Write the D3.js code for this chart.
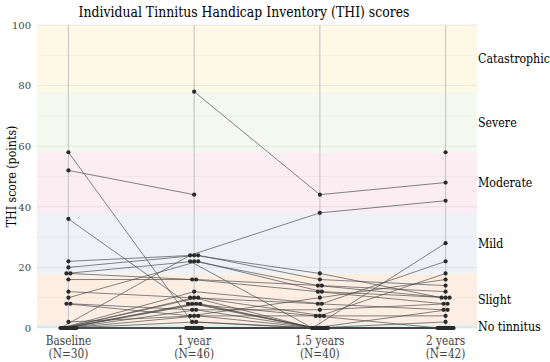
<!DOCTYPE html>
<html>
<head>
<meta charset="utf-8">
<script src="https://cdn.jsdelivr.net/npm/d3@7"></script>
<style>
body { margin:0; background:#fff; }
</style>
</head>
<body>
<div id="chart"></div>
<script>
var width = 550, height = 362;
var serif = "'DejaVu Serif', 'Liberation Serif', 'Times New Roman', serif";

// timepoints and their sample sizes
var timepoints = ["Baseline", "1 year", "1.5 years", "2 years"];
var nLabels = ["(N=30)", "(N=46)", "(N=40)", "(N=42)"];

// one entry per subject, null = not measured
var baseline = [52, null, 0, 58, 36, null, null, 22, 20, 18, 18, 16, 12, 10, 8, 8, 2,
  0, 0, 0, 0, 0, 0, 0, 0, 0, 0, 0, 0, 0, 0, 0, 0,
  null, null, null, null, null, null, null, null, null, null, null, null, null, null];
var year1 = [44, 78, 24, 2, 8, null, 22, 24, 24, 22, 16, 16, 10, 22, 4, 6, 4,
  12, 10, 10, 8, 8, 8, 6, 4, 2, 0, 0, 0, 0, 0, 0, 0,
  0, 0, 0, 0, 0, 0, 0, 0, 0, 0, 0, 0, 0, 0];
var year15 = [null, 44, 38, 0, 4, null, 0, 18, 16, 14, 12, 14, 8, 12, 10, 6, 4,
  8, 0, 4, 0, 0, 0, 0, 0, 0, 0, 0, 0, null, 0, null, 0,
  0, 0, 0, 0, 0, 0, 0, 0, 0, 0, 0, null, null, null];
var year2 = [null, 48, 42, 0, 0, 58, 28, 10, 14, 10, 8, 12, 6, 10, 16, 8, 18,
  22, 6, 4, 2, 0, 0, 0, 0, 0, 0, 0, 0, 0, null, null, 0,
  0, 0, 0, 0, 0, 0, 0, 0, 0, 0, 0, 0, null, null];

// severity grades
var grades = ["No tinnitus", "Slight", "Mild", "Moderate", "Severe", "Catastrophic"];
var gradeLow = [0, 1, 18, 38, 58, 78];
var gradeHigh = [1, 18, 38, 58, 78, 100];
var gradeColors = ["#ddf0ef", "#fdeee4", "#eef2f7", "#fbedf2", "#f5f8ee", "#fdf9e6"];

var margin = {top: 25, right: 73, bottom: 34, left: 37};

var svg = d3.select("#chart").append("svg")
  .attr("width", width)
  .attr("height", height)
  .style("font-family", serif);

var x = d3.scalePoint().domain(timepoints)
  .range([margin.left, width - margin.right]).padding(0.25);
var y = d3.scaleLinear().domain([0, 100])
  .range([height - margin.bottom, margin.top]);

// bands
svg.selectAll(".band").data(grades).enter().append("rect")
  .attr("x", margin.left)
  .attr("width", width - margin.right - margin.left)
  .attr("y", function(d, i){ return y(gradeHigh[i]) })
  .attr("height", function(d, i){ return y(gradeLow[i]) - y(gradeHigh[i]) })
  .attr("fill", function(d, i){ return gradeColors[i] });

// horizontal grid
svg.selectAll(".hgrid").data(d3.range(0, 101, 10)).enter().append("line")
  .attr("x1", margin.left).attr("x2", width - margin.right)
  .attr("y1", function(d){ return y(d) }).attr("y2", function(d){ return y(d) })
  .attr("stroke", "#000")
  .attr("stroke-opacity", function(d){ return d % 20 == 0 ? 0.07 : 0.035 });

// vertical grid
svg.selectAll(".vgrid").data(timepoints).enter().append("line")
  .attr("x1", function(d){ return x(d) }).attr("x2", function(d){ return x(d) })
  .attr("y1", y(100)).attr("y2", y(0))
  .attr("stroke", "#c9c9c9").attr("stroke-width", 1.2);

// y axis
var yAxis = svg.append("g")
  .attr("transform", "translate(" + margin.left + ",0)")
  .call(d3.axisLeft(y).tickValues([0, 20, 40, 60, 80, 100]).tickSize(0).tickPadding(6))
  .attr("font-family", serif);
yAxis.select(".domain").remove();
yAxis.selectAll("text").attr("font-size", 10).attr("fill", "#444");

svg.append("text")
  .attr("transform", "translate(16," + y(50) + ") rotate(-90) scale(0.85,1)")
  .attr("text-anchor", "middle")
  .attr("font-size", 13)
  .text("THI score (points)");

// x labels
var xl = svg.selectAll(".xlab").data(timepoints).enter().append("text")
  .attr("transform", function(d){ return "translate(" + x(d) + ",345) scale(0.88,1)" })
  .attr("text-anchor", "middle")
  .attr("font-size", 12)
  .attr("fill", "#444");
xl.append("tspan").text(function(d){ return d });
xl.append("tspan").attr("x", 0).attr("dy", 13)
  .text(function(d, i){ return nLabels[i] });

// title
svg.append("text")
  .attr("transform", "translate(244,17) scale(0.86,1)")
  .attr("text-anchor", "middle")
  .attr("font-size", 14.5)
  .text("Individual Tinnitus Handicap Inventory (THI) scores");

// grade labels
svg.selectAll(".glab").data(grades).enter().append("text")
  .attr("transform", function(d, i){
    return "translate(" + (width - margin.right + 1) + "," + y((gradeLow[i] + gradeHigh[i]) / 2) + ") scale(0.85,1)";
  })
  .attr("dy", "0.35em")
  .attr("font-size", 13)
  .text(function(d){ return d });

// points with horizontal dodge for equal values
var series = [baseline, year1, year15, year2];
var pos = series.map(function(vals, t){
  var groups = {};
  vals.forEach(function(v, i){ if (v !== null) (groups[v] = groups[v] || []).push(i) });
  var px = vals.map(function(){ return null });
  Object.keys(groups).forEach(function(k){
    var ids = groups[k], n = ids.length;
    var step = n > 1 ? Math.min(4, 16 / (n - 1)) : 0;
    ids.forEach(function(id, j){
      px[id] = x(timepoints[t]) + (j - (n - 1) / 2) * step;
    });
  });
  return px;
});

var subjects = baseline.map(function(d, i){
  var pts = [];
  series.forEach(function(vals, t){
    if (vals[i] !== null) pts.push([pos[t][i], y(vals[i])]);
  });
  return pts;
});

svg.selectAll(".subj").data(subjects).enter().append("path")
  .attr("d", d3.line())
  .attr("fill", "none")
  .attr("stroke", "#444")
  .attr("stroke-opacity", 0.65)
  .attr("stroke-width", 1);

svg.selectAll(".pt").data(d3.merge(subjects)).enter().append("circle")
  .attr("cx", function(d){ return d[0] })
  .attr("cy", function(d){ return d[1] })
  .attr("r", 2.1)
  .attr("fill", "#2a2a2a");
</script>
</body>
</html>
